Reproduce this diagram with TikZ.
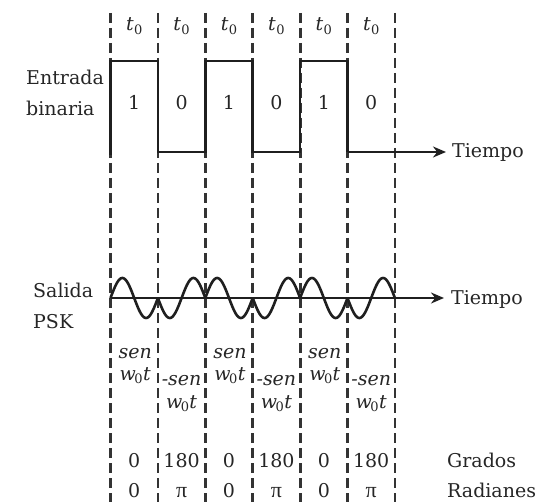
\documentclass[tikz,border=0pt]{standalone}
\usepackage{fontspec}
\setmainfont{DejaVu Serif}
\newfontfamily\pifont{Liberation Serif}
\usetikzlibrary{arrows.meta}
\newcommand{\subz}{\raisebox{-0.4ex}{\fontsize{13}{13}\selectfont 0}}
\newcommand{\wzt}{\textit{w}\kern-0.08em\subz\kern0.02em\textit{t}}
\newcommand{\tzero}{\textit{t}\kern0.02em\subz}
\newcommand{\piup}{{\pifont\fontsize{22}{22}\selectfont π}}
\begin{document}
\begin{tikzpicture}[x=1pt,y=-1pt,
  font=\fontsize{19}{21}\selectfont,
  gridline/.style={draw=black!80, line width=2.8pt, dash pattern=on 10pt off 5pt},
  sig/.style={draw=black!88, line width=2.6pt, line join=miter},
  arr/.style={sig, -{Stealth[length=13pt,width=11pt]}},
  lbl/.style={inner sep=0pt, anchor=base west, text=black!85},
  cl/.style={inner sep=0pt, anchor=base, text=black!85}]
\useasboundingbox (0,0) rectangle (540,502);
% dashed grid
\foreach \i in {0,...,6}{
  \coordinate (g\i t) at (110.5+47.4*\i,13);
  \coordinate (g\i b) at (110.5+47.4*\i,502);
  \draw[gridline] (g\i t) -- (g\i b);
}
% labels
\node[lbl] (entrada) at (26,85) {Entrada};
\node[lbl] (binaria) at (26,116) {binaria};
\node[lbl] (salida) at (33,297) {Salida};
\node[lbl] (psk) at (33,328) {PSK};
\node[lbl] (tiempoA) at (452,158) {Tiempo};
\node[lbl] (tiempoB) at (451,305) {Tiempo};
\node[lbl] (grados) at (447,467) {Grados};
\node[lbl] (radianes) at (447,497) {Radianes};
% column labels
\foreach \i/\b/\g/\r in {0/1/0/0,1/0/180/\piup,2/1/0/0,3/0/180/\piup,4/1/0/0,5/0/180/\piup}{
  \pgfmathsetmacro{\cx}{110.5+47.4*(\i+0.5)}
  \node[cl] (t\i) at (\cx,31) {\tzero};
  \node[cl] (bit\i) at (\cx,110) {\b};
  \node[cl] (deg\i) at (\cx,467) {\g};
  \node[cl] (rad\i) at (\cx,497) {\r};
}
\foreach \i in {0,2,4}{
  \pgfmathsetmacro{\cx}{110.5+47.4*(\i+0.5)}
  \node[cl] (sA\i) at (\cx+1,358) {\textit{sen}};
  \node[cl] (wA\i) at (\cx+1,380) {\wzt};
}
\foreach \i in {1,3,5}{
  \pgfmathsetmacro{\cx}{110.5+47.4*(\i+0.5)}
  \node[cl] (sB\i) at (\cx,385) {\textit{-sen}};
  \node[cl] (wB\i) at (\cx,408) {\wzt};
}
% binary input
\coordinate (s0) at (110.5,155);
\draw[sig] (s0) -- (110.5,61) -- (157.9,61) -- (157.9,152) -- (205.3,152) -- (205.3,61)
  -- (252.7,61) -- (252.7,152) -- (300.1,152) -- (300.1,61) -- (347.5,61) -- (347.5,152) coordinate (s1);
\draw[arr] (s1) -- ([xshift=-6pt]tiempoA.west |- s1);
% PSK axis
\coordinate (a0) at (110.5,298);
\draw[arr] (a0) -- ([xshift=-7pt]tiempoB.west |- a0);
% PSK wave
\foreach \i/\sg in {0/1,1/-1,2/1,3/-1,4/1,5/-1}{
  \draw[sig, line join=round] plot[domain=0:47.4, samples=60, smooth]
    ({110.5+47.4*\i+\x},{298-20*\sg*sin(7.5949*\x)});
}
\end{tikzpicture}
\end{document}
